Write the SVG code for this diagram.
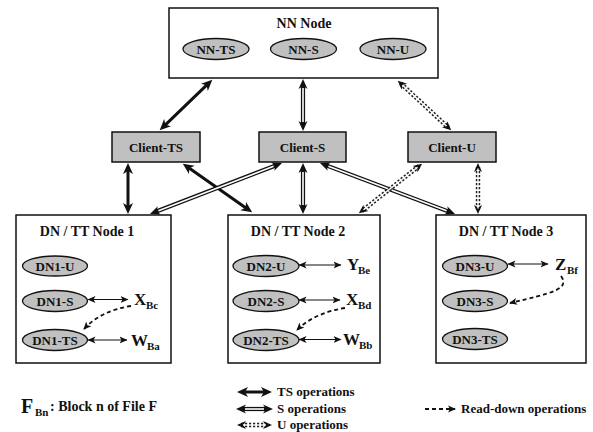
<svg xmlns="http://www.w3.org/2000/svg" width="593" height="432" viewBox="0 0 593 432">
<style>
text{font-family:"Liberation Serif","Times New Roman",serif;font-weight:bold;fill:#111}
.box{fill:#fff;stroke:#111;stroke-width:1.5}
.gbox{fill:#c0c0c0;stroke:#111;stroke-width:1.5}
.ell{fill:#c0c0c0;stroke:#111;stroke-width:1.3}
.lbl{font-size:13px;text-anchor:middle}
.ttl{font-size:14px;text-anchor:middle}
.big{font-size:17px}
.sub{font-size:11px}
.leg{font-size:13px}
.ts{stroke:#111;stroke-width:3;fill:none;marker-start:url(#tsH);marker-end:url(#tsH)}
.so{stroke:#111;stroke-width:4.2;fill:none;marker-start:url(#sH);marker-end:url(#sH)}
.si{stroke:#fff;stroke-width:1.6;fill:none}
.uo{stroke:#222;stroke-width:4.4;fill:none;stroke-dasharray:2.2 1.8;marker-start:url(#uH);marker-end:url(#uH)}
.ui{stroke:#fff;stroke-width:1.4;fill:none}
.thin{stroke:#111;stroke-width:1.2;fill:none;marker-start:url(#tH);marker-end:url(#tH)}
.rd{stroke:#111;stroke-width:1.8;fill:none;stroke-dasharray:4 3;marker-end:url(#rH)}
</style>
<defs>
<marker id="tsH" viewBox="0 0 12 12" markerUnits="userSpaceOnUse" markerWidth="12" markerHeight="12" refX="6" refY="6" orient="auto-start-reverse"><path d="M0,1 L11,6 L0,11 L3,6 z" fill="#111"/></marker>
<marker id="sH" viewBox="0 0 12 12" markerUnits="userSpaceOnUse" markerWidth="12" markerHeight="12" refX="4" refY="6" orient="auto-start-reverse"><path d="M0,1.5 L10,6 L0,10.5 L3,6 z" fill="#111"/></marker>
<marker id="uH" viewBox="0 0 12 12" markerUnits="userSpaceOnUse" markerWidth="12" markerHeight="12" refX="5" refY="6" orient="auto-start-reverse"><path d="M0,2 L9,6 L0,10 L2.5,6 z" fill="#111"/></marker>
<marker id="tH" viewBox="0 0 10 10" markerUnits="userSpaceOnUse" markerWidth="10" markerHeight="10" refX="7.5" refY="5" orient="auto-start-reverse"><path d="M0,1.5 L8,5 L0,8.5 L2,5 z" fill="#111"/></marker>
<marker id="rH" viewBox="0 0 10 10" markerUnits="userSpaceOnUse" markerWidth="10" markerHeight="10" refX="7" refY="5" orient="auto"><path d="M0,1.5 L8,5 L0,8.5 L2,5 z" fill="#111"/></marker>
</defs>

<g id="nn-node">
<rect class="box" x="169" y="8" width="269" height="70"/>
<text class="ttl" x="304" y="28">NN Node</text>
<ellipse class="ell" cx="216" cy="49" rx="33" ry="10.5"/><text class="lbl" x="216" y="53.5">NN-TS</text>
<ellipse class="ell" cx="303.5" cy="49" rx="33" ry="10.5"/><text class="lbl" x="303.5" y="53.5">NN-S</text>
<ellipse class="ell" cx="393" cy="49" rx="33" ry="10.5"/><text class="lbl" x="393" y="53.5">NN-U</text>
</g>

<g id="client-ts"><rect class="gbox" x="112" y="132" width="88" height="30"/><text class="lbl" x="156" y="151.5">Client-TS</text></g>
<g id="client-s"><rect class="gbox" x="259" y="132" width="87" height="30"/><text class="lbl" x="302.5" y="151.5">Client-S</text></g>
<g id="client-u"><rect class="gbox" x="408" y="132" width="88" height="30"/><text class="lbl" x="452" y="151.5">Client-U</text></g>

<g id="dn1">
<rect class="box" x="16" y="215" width="155" height="148"/>
<text class="ttl" x="87" y="236">DN / TT Node 1</text>
<ellipse class="ell" cx="55" cy="266" rx="32.5" ry="10"/><text class="lbl" x="55" y="270.5">DN1-U</text>
<ellipse class="ell" cx="55" cy="301" rx="32.5" ry="10.5"/><text class="lbl" x="55" y="305.5">DN1-S</text>
<ellipse class="ell" cx="55" cy="340" rx="32.5" ry="10.5"/><text class="lbl" x="55" y="344.5">DN1-TS</text>
<text class="big" x="134" y="305">X</text><text class="sub" x="146" y="309">Bc</text>
<text class="big" x="131" y="346">W</text><text class="sub" x="147" y="350">Ba</text>
</g>

<g id="dn2">
<rect class="box" x="228" y="215" width="152" height="148"/>
<text class="ttl" x="298" y="236">DN / TT Node 2</text>
<ellipse class="ell" cx="266" cy="266" rx="33" ry="10.5"/><text class="lbl" x="266" y="270.5">DN2-U</text>
<ellipse class="ell" cx="266" cy="301" rx="33" ry="10.5"/><text class="lbl" x="266" y="305.5">DN2-S</text>
<ellipse class="ell" cx="266" cy="340" rx="33" ry="10.5"/><text class="lbl" x="266" y="344.5">DN2-TS</text>
<text class="big" x="347" y="270">Y</text><text class="sub" x="358" y="274">Be</text>
<text class="big" x="346" y="305">X</text><text class="sub" x="358" y="309">Bd</text>
<text class="big" x="343" y="345">W</text><text class="sub" x="359" y="349">Bb</text>
</g>

<g id="dn3">
<rect class="box" x="436" y="215" width="150" height="148"/>
<text class="ttl" x="506" y="236">DN / TT Node 3</text>
<ellipse class="ell" cx="475" cy="266" rx="32.5" ry="10.5"/><text class="lbl" x="475" y="270.5">DN3-U</text>
<ellipse class="ell" cx="475" cy="301" rx="32.5" ry="10.5"/><text class="lbl" x="475" y="305.5">DN3-S</text>
<ellipse class="ell" cx="475" cy="339" rx="32.5" ry="10.5"/><text class="lbl" x="475" y="343.5">DN3-TS</text>
<text class="big" x="555" y="270">Z</text><text class="sub" x="567" y="274">Bf</text>
</g>

<g id="connectors">
<path class="ts" d="M163.3,126.8 L208.7,83.2"/>
<path class="ts" d="M128,168 L128,209"/>
<path class="ts" d="M186.9,166.5 L248.1,209.5"/>

<path class="so" d="M303,125 L303,85"/><path class="si" d="M303,122 L303,88"/>
<path class="so" d="M276.4,165.2 L155.6,211.8"/><path class="si" d="M273.6,166.3 L158.4,210.7"/>
<path class="so" d="M303,169 L303,208"/><path class="si" d="M303,172 L303,205"/>
<path class="so" d="M325.6,165.1 L449.4,211.9"/><path class="si" d="M328.4,166.2 L446.6,210.8"/>

<path class="uo" d="M400.7,83.4 L448.3,127.6"/><path class="ui" d="M402.5,85 L446.5,126"/>
<path class="uo" d="M419,166.1 L362,210.9"/><path class="ui" d="M417.5,167.3 L363.5,209.7"/>
<path class="uo" d="M478,167 L478,210"/><path class="ui" d="M478,168.5 L478,208.5"/>

<path class="thin" d="M88,299.5 L128,299.5"/>
<path class="thin" d="M88,340 L127,340"/>
<path class="thin" d="M299,265 L341,265"/>
<path class="thin" d="M299,300 L340,300"/>
<path class="thin" d="M299,339.5 L341,339.5"/>
<path class="thin" d="M508,264 L548,264"/>

<path class="rd" d="M131,306 C112,309 96,316 84,329"/>
<path class="rd" d="M345,308 C326,311 309,318 297,330"/>
<path class="rd" d="M561,276 C570,289 553,293 510,303"/>
</g>

<g id="legend">
<text x="21" y="413" font-size="20px">F</text><text class="sub" x="35" y="416">Bn</text>
<text x="50" y="411" font-size="14px">:  Block n of File F</text>
<path class="ts" d="M242,392 L267,392"/>
<text class="leg" x="277" y="396">TS operations</text>
<path class="so" d="M242,409 L267,409"/><path class="si" d="M245,409 L264,409"/>
<text class="leg" x="277" y="413">S operations</text>
<path class="uo" d="M241,425 L268,425"/><path class="ui" d="M243,425 L266,425"/>
<text class="leg" x="277" y="429">U operations</text>
<path class="rd" d="M425,409 L455,409"/>
<text class="leg" x="461" y="413">Read-down operations</text>
</g>
</svg>
